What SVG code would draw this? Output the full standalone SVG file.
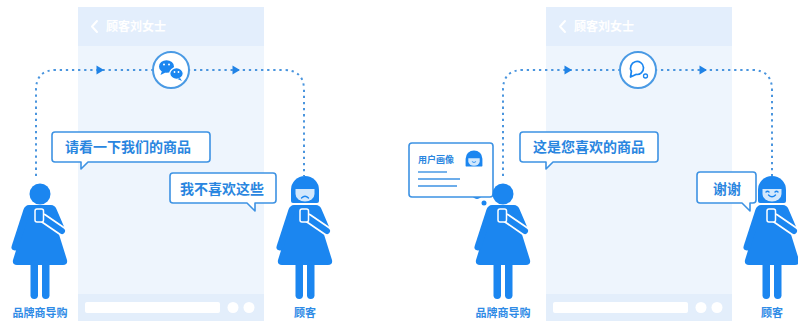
<svg xmlns="http://www.w3.org/2000/svg" xmlns:xlink="http://www.w3.org/1999/xlink" width="798" height="325" viewBox="0 0 798 325">
  <style>
    .hdr { fill: #e3eefc; }
    .body { fill: #eef5fd; }
    .bar { fill: #e3eefb; }
    .wht { fill: #ffffff; }
    .hdrtxt { font-family: "Noto Sans CJK SC", "Noto Sans", sans-serif; font-size: 12px; font-weight: bold; fill: #ffffff; }
    .chev { fill: none; stroke: #ffffff; stroke-width: 2; stroke-linecap: round; stroke-linejoin: round; }
    .flow { fill: none; stroke: #4a95de; stroke-width: 2; stroke-dasharray: 2.3 3.8; }
    .arrow { fill: #1f82e6; }
    .hub { fill: #ffffff; stroke: #4a9ae4; stroke-width: 2; }
    .bubble { fill: #ffffff; stroke: #3d92e3; stroke-width: 1.6; stroke-linejoin: round; }
    .say { font-family: "Noto Sans CJK SC", "Noto Sans", sans-serif; font-size: 14px; font-weight: bold; fill: #2a86e0; }
    .name { font-family: "Noto Sans CJK SC", "Noto Sans", sans-serif; font-size: 11px; font-weight: bold; fill: #2f8be6; text-anchor: middle; }
    .person { fill: #1b86f0; }
    .limb { stroke: #1b86f0; stroke-width: 7; stroke-linecap: round; fill: none; }
    .face { fill: #d3e8fc; }
    .mouth { fill: none; stroke: #1b86f0; stroke-width: 1.4; stroke-linecap: round; }
  </style>
  <defs>
    <!-- shared figure body: origin at head centre -->
    <g id="figure-body">
      <path class="person" d="M -11,11 H 11 Q 15,11 16,16 L 17,34 L 27,66 Q 28,71 23,71 H -23 Q -28,71 -27,66 L -17,34 L -16,16 Q -15,11 -11,11 Z"/>
      <line class="limb" x1="-13" y1="16" x2="-25" y2="53"/>
      <line class="limb" x1="13" y1="16" x2="22" y2="37"/>
      <rect class="person" x="-9.5" y="66" width="7.5" height="39" rx="3.7"/>
      <rect class="person" x="2" y="66" width="7.5" height="39" rx="3.7"/>
      <line x1="22" y1="37" x2="3" y2="24" stroke="#ffffff" stroke-width="9.5" stroke-linecap="round"/>
      <line x1="22" y1="37" x2="3" y2="24" stroke="#1b86f0" stroke-width="6" stroke-linecap="round"/>
      <rect x="-5" y="15" width="8.5" height="13" rx="2" fill="#1b86f0" stroke="#ffffff" stroke-width="1.5"/>
    </g>
    <path id="bob-hair" class="person" d="M -14,9 V -2 A 14,14 0 0 1 14,-2 V 9 Q 14,11 12,11 H -12 Q -14,11 -14,9 Z"/>
    <path id="bob-face" class="face" d="M -9.5,-3 H 9.5 V 2 A 9.5,7.5 0 0 1 -9.5,2 Z"/>
    <path id="arrowhead" class="arrow" d="M -3.5,-4.5 L 4,0 L -3.5,4.5 Z"/>
  </defs>

  <!-- chat screens -->
  <g id="screen-left">
    <rect class="body" x="78" y="7" width="186" height="314"/>
    <rect class="hdr" x="78" y="7" width="186" height="39"/>
    <polyline class="chev" points="97,21 92,26.5 97,32"/>
    <text class="hdrtxt" x="106" y="31">顾客刘女士</text>
    <rect class="bar" x="78" y="294" width="186" height="27"/>
    <rect class="wht" x="85" y="302" width="135" height="11" rx="2"/>
    <circle class="wht" cx="233" cy="307.5" r="5.5"/>
    <circle class="wht" cx="249" cy="307.5" r="5.5"/>
  </g>
  <g id="screen-right">
    <rect class="body" x="546" y="7" width="186" height="314"/>
    <rect class="hdr" x="546" y="7" width="186" height="39"/>
    <polyline class="chev" points="565,21 560,26.5 565,32"/>
    <text class="hdrtxt" x="574" y="31">顾客刘女士</text>
    <rect class="bar" x="546" y="294" width="186" height="27"/>
    <rect class="wht" x="553" y="302" width="135" height="11" rx="2"/>
    <circle class="wht" cx="701" cy="307.5" r="5.5"/>
    <circle class="wht" cx="717" cy="307.5" r="5.5"/>
  </g>

  <!-- connectors -->
  <g id="connectors">
    <path class="flow" d="M 36,176 V 90 Q 36,70 56,70 H 284 Q 304,70 304,90 V 176"/>
    <use href="#arrowhead" x="100" y="70"/>
    <use href="#arrowhead" x="236" y="70"/>
    <path class="flow" d="M 503,176 V 90 Q 503,70 523,70 H 752 Q 772,70 772,90 V 176"/>
    <use href="#arrowhead" x="568" y="70"/>
    <use href="#arrowhead" x="703" y="70"/>
  </g>

  <!-- channel hubs -->
  <g id="hub-wechat">
    <circle class="hub" cx="171" cy="70" r="18"/>
    <ellipse cx="166.5" cy="66.5" rx="7.5" ry="6.3" fill="#1b86f0"/>
    <path d="M 162,71 L 160.5,75 L 165.5,72.5 Z" fill="#1b86f0"/>
    <ellipse cx="176.5" cy="73.5" rx="6.8" ry="5.8" fill="#1b86f0" stroke="#ffffff" stroke-width="1.3"/>
    <path d="M 180,78 L 182,81 L 177.5,79 Z" fill="#1b86f0"/>
    <circle cx="164" cy="64.5" r="1" fill="#ffffff"/>
    <circle cx="169" cy="64.5" r="1" fill="#ffffff"/>
    <circle cx="174.5" cy="72" r="0.9" fill="#ffffff"/>
    <circle cx="178.5" cy="72" r="0.9" fill="#ffffff"/>
  </g>
  <g id="hub-chat">
    <circle class="hub" cx="638" cy="70" r="18"/>
    <path d="M 631.4,71.25 A 6.5,6.5 0 1 1 635.9,74.4 L 630.5,77 Z" fill="none" stroke="#1b86f0" stroke-width="1.7" stroke-linejoin="round" stroke-linecap="round"/>
    <circle cx="645.5" cy="76" r="2" fill="none" stroke="#1b86f0" stroke-width="1.3"/>
  </g>

  <!-- speech bubbles -->
  <g id="say-look">
    <path class="bubble" d="M 55,132 H 207 Q 210,132 210,135 V 159 Q 210,162 207,162 H 88 L 81,169 L 81,162 H 55 Q 52,162 52,159 V 135 Q 52,132 55,132 Z"/>
    <text class="say" x="65" y="152">请看一下我们的商品</text>
  </g>
  <g id="say-dislike">
    <path class="bubble" d="M 173,173 H 273 Q 276,173 276,176 V 200 Q 276,203 273,203 H 255 L 255,211 L 247,203 H 173 Q 170,203 170,200 V 176 Q 170,173 173,173 Z"/>
    <text class="say" x="180" y="194">我不喜欢这些</text>
  </g>
  <g id="say-liked">
    <path class="bubble" d="M 523,132 H 655 Q 658,132 658,135 V 159 Q 658,162 655,162 H 553 L 546,169 L 546,162 H 523 Q 520,162 520,159 V 135 Q 520,132 523,132 Z"/>
    <text class="say" x="533" y="152">这是您喜欢的商品</text>
  </g>
  <g id="say-thanks">
    <path class="bubble" d="M 700,172 H 753 Q 756,172 756,175 V 200 Q 756,203 753,203 H 750 L 750,211 L 742,203 H 700 Q 697,203 697,200 V 175 Q 697,172 700,172 Z"/>
    <text class="say" x="713" y="194">谢谢</text>
  </g>

  <!-- customer profile card -->
  <g id="profile-card">
    <circle cx="477" cy="194" r="5" fill="#1b86f0"/>
    <circle cx="484" cy="203" r="2.5" fill="#1b86f0"/>
    <rect class="bubble" x="409" y="143" width="84" height="54" rx="3"/>
    <text x="418" y="163" font-family="Noto Sans CJK SC, Noto Sans, sans-serif" font-size="9" font-weight="bold" fill="#2a86e0">用户画像</text>
    <g transform="translate(474,160) scale(0.6)">
      <use href="#bob-hair"/>
      <use href="#bob-face"/>
      <path class="mouth" d="M -3,3 Q 0,6 3,3"/>
    </g>
    <line x1="418" y1="172" x2="447" y2="172" stroke="#3d92e3" stroke-width="1.4"/>
    <line x1="418" y1="179" x2="460" y2="179" stroke="#3d92e3" stroke-width="1.4"/>
    <line x1="418" y1="186" x2="457" y2="186" stroke="#3d92e3" stroke-width="1.4"/>
  </g>

  <!-- people -->
  <g id="guide-left">
    <circle class="person" cx="40" cy="194" r="10.5"/>
    <use href="#figure-body" x="40" y="194"/>
    <text class="name" x="40" y="317">品牌商导购</text>
  </g>
  <g id="customer-left">
    <use href="#figure-body" x="305" y="194"/>
    <g transform="translate(305,192)">
      <use href="#bob-hair"/>
      <use href="#bob-face"/>
      <path class="mouth" d="M -3.5,6 Q 0,2.5 3.5,6"/>
    </g>
    <text class="name" x="305" y="317">顾客</text>
  </g>
  <g id="guide-right">
    <circle class="person" cx="503" cy="194" r="10.5"/>
    <use href="#figure-body" x="503" y="194"/>
    <text class="name" x="503" y="317">品牌商导购</text>
  </g>
  <g id="customer-right">
    <use href="#figure-body" x="772" y="194"/>
    <g transform="translate(772,192)">
      <use href="#bob-hair"/>
      <use href="#bob-face"/>
      <path class="mouth" d="M -3.5,3 Q 0,6.5 3.5,3"/>
      <path class="mouth" d="M -6,0 Q -4.5,-1.5 -3,0 M 3,0 Q 4.5,-1.5 6,0"/>
    </g>
    <text class="name" x="772" y="317">顾客</text>
  </g>
</svg>
